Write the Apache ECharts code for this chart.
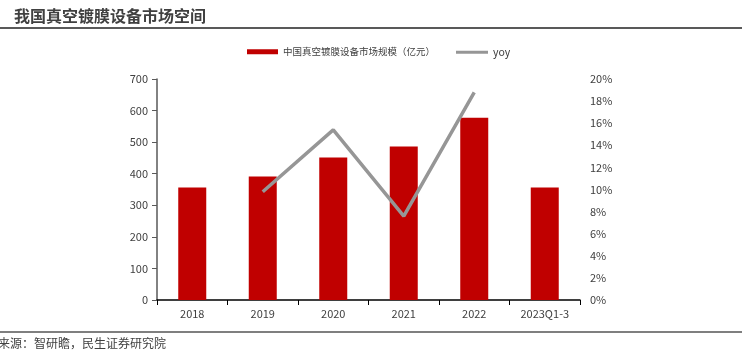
<!DOCTYPE html>
<html><head><meta charset="utf-8">
<script src="https://cdn.jsdelivr.net/npm/echarts@6/dist/echarts.min.js"></script>
<style>html,body{margin:0;padding:0;background:#fff}#c{width:742px;height:355px}</style>
</head><body><div id="c"></div>
<script>
const categories = ['2018', '2019', '2020', '2021', '2022', '2023Q1-3'];
const marketSize = [356, 391, 451, 486, 577, 356];
const yoy = [null, 9.8, 15.4, 7.6, 18.8, null];
const leftTicks = [0, 700, 100];
const rightTicks = [0, 20, 2];

const FONT = '"Noto Sans CJK SC", "Noto Sans", sans-serif';
const chart = echarts.init(document.getElementById('c'), null, {renderer: 'canvas'});
chart.setOption({
  animation: false,
  textStyle: {fontFamily: FONT},
  title: {
    text: '我国真空镀膜设备市场空间', left: 9, top: 3,
    textStyle: {fontFamily: FONT, fontSize: 16, fontWeight: 'bold', color: '#404040'}
  },
  graphic: [
    {type: 'line', shape: {x1: 0, y1: 28, x2: 742, y2: 28}, style: {stroke: '#595959', lineWidth: 2}},
    {type: 'line', shape: {x1: 0, y1: 332, x2: 742, y2: 332}, style: {stroke: '#7f7f7f', lineWidth: 2}},
    {type: 'text', left: -2, top: 337, style: {text: '来源：智研瞻，民生证券研究院', font: '12px ' + FONT, fill: '#404040'}}
  ],
  legend: [
    {data: [{name: '中国真空镀膜设备市场规模（亿元）', icon: 'rect'}], left: 242, top: 42, itemWidth: 31, itemHeight: 5, itemGap: 4,
     textStyle: {fontFamily: FONT, fontSize: 9.5, color: '#404040'}},
    {data: [{name: 'yoy', icon: 'rect'}], left: 451, top: 42, itemWidth: 32, itemHeight: 3,
     textStyle: {fontFamily: FONT, fontSize: 10.5, color: '#404040'}}
  ],
  grid: {left: 157, right: 162, top: 79, bottom: 55, containLabel: false},
  xAxis: {
    type: 'category', data: categories,
    axisLine: {lineStyle: {color: '#000', width: 1.5}},
    axisTick: {show: true, length: 5, alignWithLabel: false, lineStyle: {color: '#000'}},
    axisLabel: {fontFamily: FONT, fontSize: 11, color: '#404040', margin: 8}
  },
  yAxis: [
    {type: 'value', min: leftTicks[0], max: leftTicks[1], interval: leftTicks[2],
     axisLine: {show: true, lineStyle: {color: '#595959', width: 1.5}},
     axisTick: {show: true, length: 5, lineStyle: {color: '#595959'}},
     splitLine: {show: false},
     axisLabel: {fontFamily: FONT, fontSize: 11, color: '#404040', margin: 9}},
    {type: 'value', min: rightTicks[0], max: rightTicks[1], interval: rightTicks[2],
     axisLine: {show: false}, axisTick: {show: false}, splitLine: {show: false},
     axisLabel: {fontFamily: FONT, fontSize: 11, color: '#404040', margin: 10, formatter: v => v + '%'}}
  ],
  series: [
    {name: '中国真空镀膜设备市场规模（亿元）', type: 'bar', data: marketSize, barWidth: 28,
     itemStyle: {color: '#C00000'}},
    {name: 'yoy', type: 'line', yAxisIndex: 1, data: yoy, showSymbol: false, symbol: 'none',
     lineStyle: {color: '#969696', width: 3.5}, itemStyle: {color: '#969696'}}
  ]
});
</script></body></html>
